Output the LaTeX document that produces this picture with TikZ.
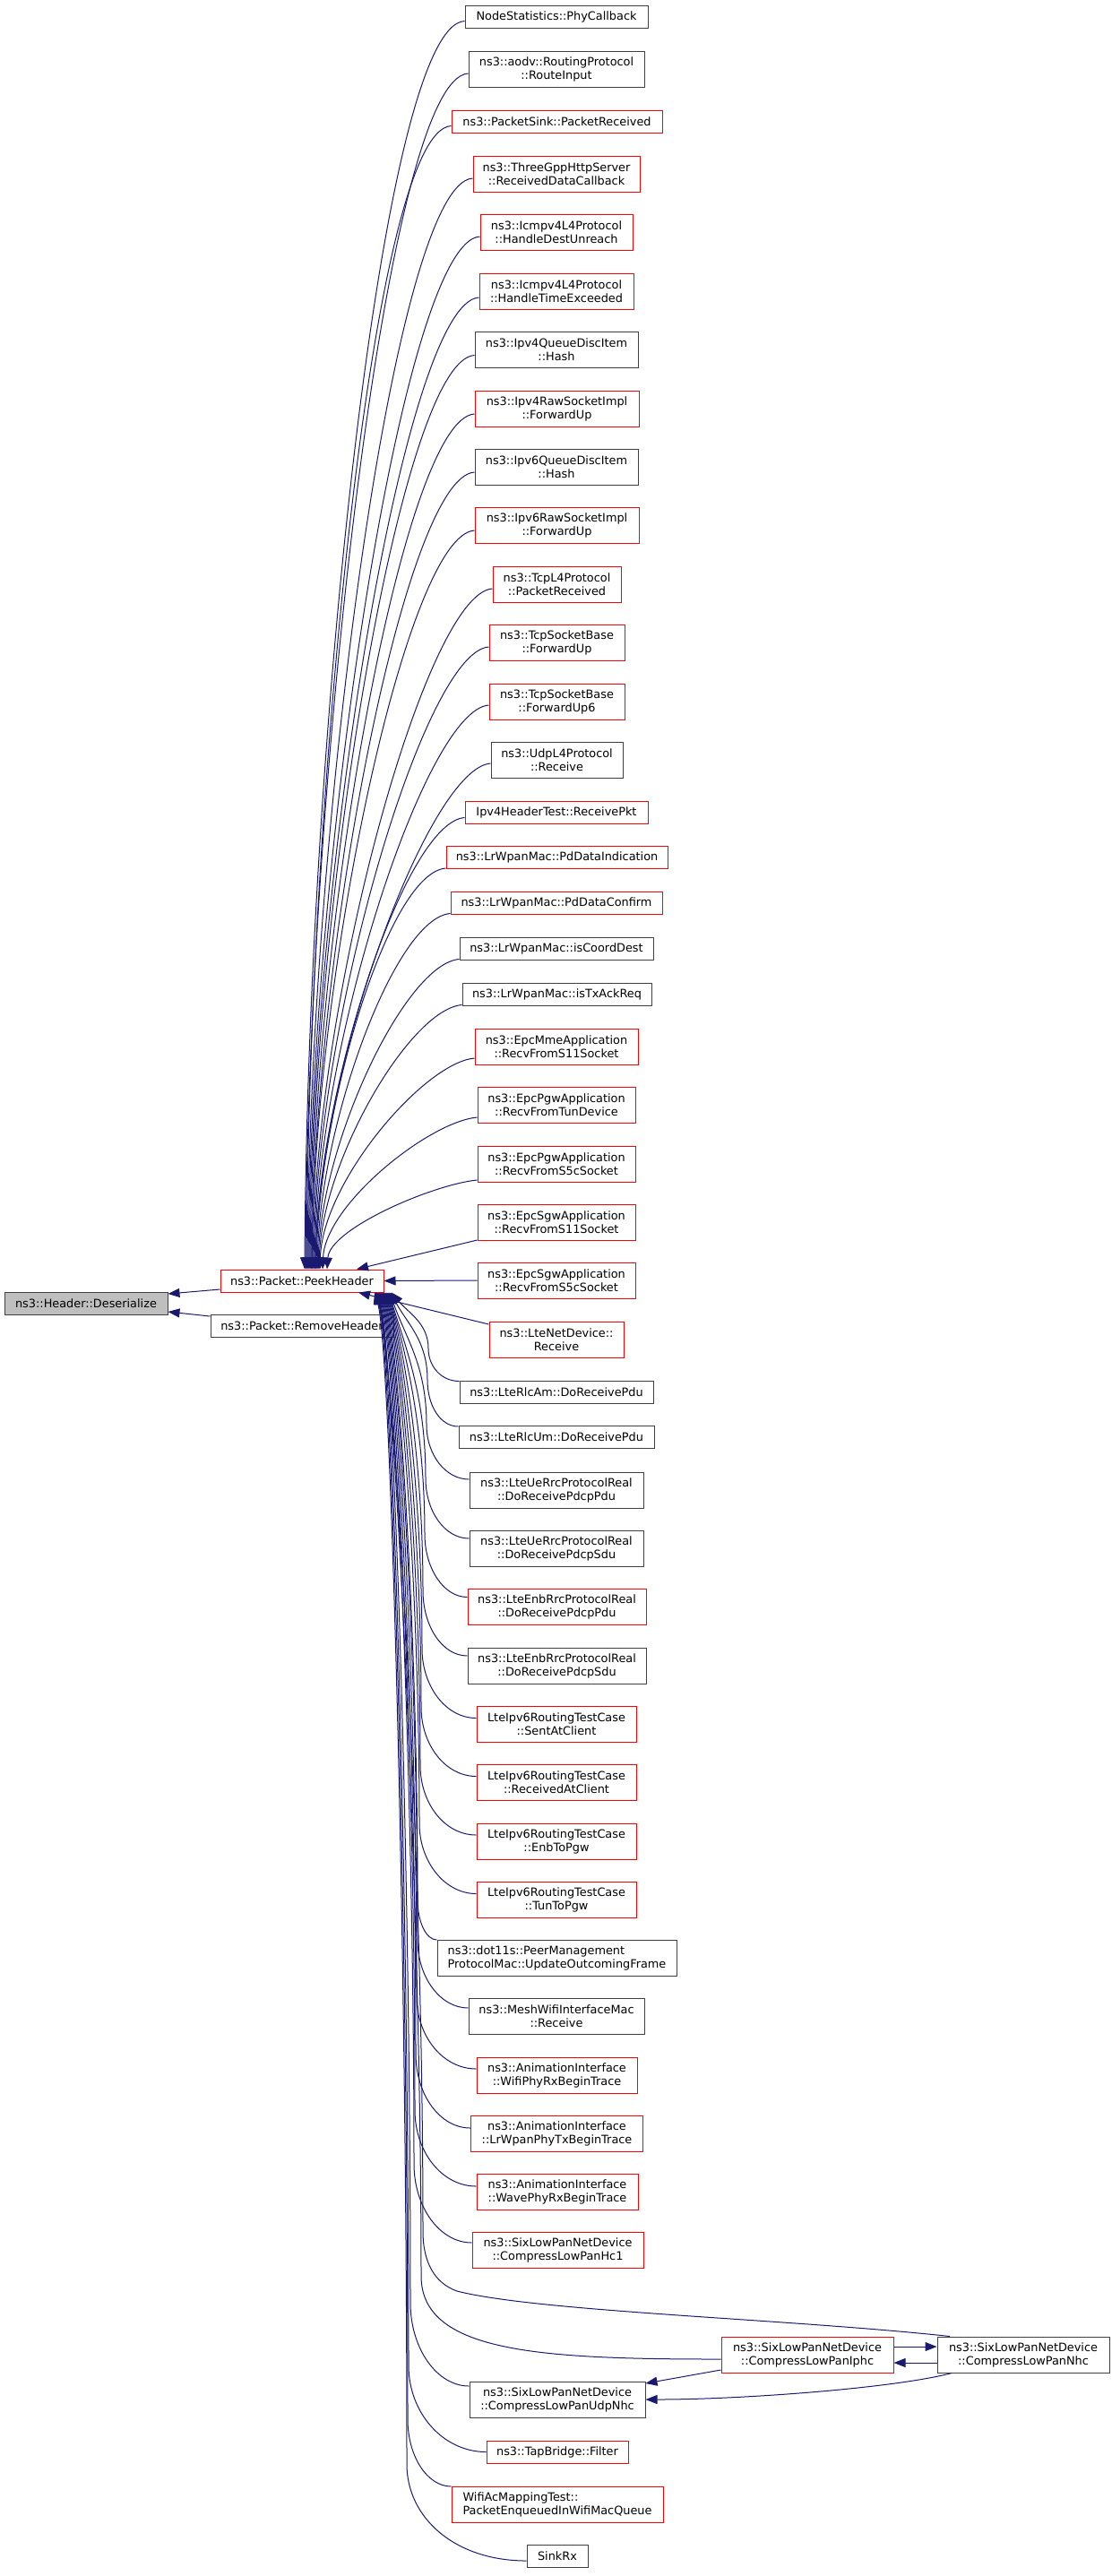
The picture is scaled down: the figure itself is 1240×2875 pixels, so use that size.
\documentclass[tikz,border=0pt]{standalone}
\usepackage{fontspec}
\setmainfont{DejaVu Sans}
\usetikzlibrary{arrows.meta}

\definecolor{edgeblue}{HTML}{191970}
\definecolor{fnred}{HTML}{FF0000}
\definecolor{fngrey}{HTML}{404040}
\definecolor{fnfill}{HTML}{BFBFBF}

\newcommand{\fnfont}{\fontsize{12.85pt}{15pt}\selectfont}

\tikzset{
  fn/.style={rectangle, draw, line width=1pt, inner sep=2pt, font=\fnfont, align=center, text=black},
  redbox/.style={draw=fnred},
  greybox/.style={draw=fngrey},
  one/.style={minimum height=25pt},
  two/.style={minimum height=40pt},
  call/.style={draw=edgeblue, line width=1pt, -{Triangle[length=13pt,width=10pt]}},
}

\begin{document}
\begin{tikzpicture}[x=1pt,y=-1pt]
  \useasboundingbox (0,0) rectangle (1240,2875);

  \begin{scope}[every node/.style={fn}]
    \node[greybox, fill=fnfill, one, minimum width=182pt] (des) at (96,1454.5) {ns3::Header::Deserialize};
    \node[redbox, one, minimum width=182pt] (peek) at (337,1429.5) {ns3::Packet::PeekHeader};
    \node[greybox, one, minimum width=204pt] (remove) at (337,1480) {ns3::Packet::RemoveHeader};

    \node[greybox, one, minimum width=204pt] (phycb) at (621,18.5) {NodeStatistics::PhyCallback};
    \node[greybox, two, minimum width=196pt] (aodv) at (621,77) {ns3::aodv::RoutingProtocol\\::RouteInput};
    \node[redbox, one, minimum width=235pt] (sink) at (621.5,135.5) {ns3::PacketSink::PacketReceived};
    \node[redbox, two, minimum width=186pt] (http) at (621,194) {ns3::ThreeGppHttpServer\\::ReceivedDataCallback};
    \node[redbox, two, minimum width=170pt] (icmpdu) at (621,259) {ns3::Icmpv4L4Protocol\\::HandleDestUnreach};
    \node[redbox, two, minimum width=172pt] (icmpte) at (621,325) {ns3::Icmpv4L4Protocol\\::HandleTimeExceeded};
    \node[greybox, two, minimum width=182pt] (qd4) at (621,390.5) {ns3::Ipv4QueueDiscItem\\::Hash};
    \node[redbox, two, minimum width=183pt] (raw4) at (621.5,456) {ns3::Ipv4RawSocketImpl\\::ForwardUp};
    \node[greybox, two, minimum width=182pt] (qd6) at (621,521) {ns3::Ipv6QueueDiscItem\\::Hash};
    \node[redbox, two, minimum width=183pt] (raw6) at (621.5,586) {ns3::Ipv6RawSocketImpl\\::ForwardUp};
    \node[redbox, two, minimum width=143pt] (tcpl4) at (621.5,652) {ns3::TcpL4Protocol\\::PacketReceived};
    \node[redbox, two, minimum width=151pt] (tcpfw) at (621.5,717) {ns3::TcpSocketBase\\::ForwardUp};
    \node[redbox, two, minimum width=151pt] (tcpfw6) at (621.5,783) {ns3::TcpSocketBase\\::ForwardUp6};
    \node[greybox, two, minimum width=147pt] (udpl4) at (621.5,848) {ns3::UdpL4Protocol\\::Receive};
    \node[redbox, one, minimum width=204pt] (ip4test) at (621,906.5) {Ipv4HeaderTest::ReceivePkt};
    \node[redbox, one, minimum width=247pt] (pdind) at (621.5,957) {ns3::LrWpanMac::PdDataIndication};
    \node[redbox, one, minimum width=236pt] (pdconf) at (621,1007.5) {ns3::LrWpanMac::PdDataConfirm};
    \node[greybox, one, minimum width=216pt] (coord) at (621,1058.5) {ns3::LrWpanMac::isCoordDest};
    \node[greybox, one, minimum width=211pt] (txack) at (621.5,1109.5) {ns3::LrWpanMac::isTxAckReq};
    \node[redbox, two, minimum width=182pt] (mme) at (621,1168) {ns3::EpcMmeApplication\\::RecvFromS11Socket};
    \node[redbox, two, minimum width=176pt] (pgwtun) at (621,1233) {ns3::EpcPgwApplication\\::RecvFromTunDevice};
    \node[redbox, two, minimum width=176pt] (pgws5c) at (621,1299) {ns3::EpcPgwApplication\\::RecvFromS5cSocket};
    \node[redbox, two, minimum width=176pt] (sgws11) at (621,1364) {ns3::EpcSgwApplication\\::RecvFromS11Socket};
    \node[redbox, two, minimum width=176pt] (sgws5c) at (621,1429) {ns3::EpcSgwApplication\\::RecvFromS5cSocket};
    \node[redbox, two, minimum width=150pt] (ltenet) at (621,1495) {ns3::LteNetDevice::\\Receive};
    \node[greybox, one, minimum width=216pt] (rlcam) at (621,1553.5) {ns3::LteRlcAm::DoReceivePdu};
    \node[greybox, one, minimum width=218pt] (rlcum) at (621,1604) {ns3::LteRlcUm::DoReceivePdu};
    \node[greybox, two, minimum width=194pt] (uepdu) at (621,1663) {ns3::LteUeRrcProtocolReal\\::DoReceivePdcpPdu};
    \node[greybox, two, minimum width=194pt] (uesdu) at (621,1728) {ns3::LteUeRrcProtocolReal\\::DoReceivePdcpSdu};
    \node[redbox, two, minimum width=199pt] (enbpdu) at (621.5,1793.5) {ns3::LteEnbRrcProtocolReal\\::DoReceivePdcpPdu};
    \node[greybox, two, minimum width=199pt] (enbsdu) at (621.5,1859) {ns3::LteEnbRrcProtocolReal\\::DoReceivePdcpSdu};
    \node[redbox, two, minimum width=178pt] (sent) at (621,1924.5) {LteIpv6RoutingTestCase\\::SentAtClient};
    \node[redbox, two, minimum width=178pt] (recv) at (621,1989.5) {LteIpv6RoutingTestCase\\::ReceivedAtClient};
    \node[redbox, two, minimum width=178pt] (enbpgw) at (621,2055) {LteIpv6RoutingTestCase\\::EnbToPgw};
    \node[redbox, two, minimum width=178pt] (tunpgw) at (621,2120.5) {LteIpv6RoutingTestCase\\::TunToPgw};
    \node[greybox, two, minimum width=267pt, align=left] (dot11s) at (621.5,2185) {ns3::dot11s::PeerManagement\\ProtocolMac::UpdateOutcomingFrame};
    \node[greybox, two, minimum width=196pt] (mesh) at (621,2250) {ns3::MeshWifiInterfaceMac\\::Receive};
    \node[redbox, two, minimum width=179pt] (wifirx) at (621.5,2316) {ns3::AnimationInterface\\::WifiPhyRxBeginTrace};
    \node[redbox, two, minimum width=192pt] (lrtx) at (621.5,2381) {ns3::AnimationInterface\\::LrWpanPhyTxBeginTrace};
    \node[redbox, two, minimum width=180pt] (waverx) at (622,2446) {ns3::AnimationInterface\\::WavePhyRxBeginTrace};
    \node[redbox, two, minimum width=191pt] (hc1) at (622.5,2511) {ns3::SixLowPanNetDevice\\::CompressLowPanHc1};
    \node[redbox, two, minimum width=192pt] (iphc) at (901,2628) {ns3::SixLowPanNetDevice\\::CompressLowPanIphc};
    \node[greybox, two, minimum width=192pt] (nhc) at (1142,2628) {ns3::SixLowPanNetDevice\\::CompressLowPanNhc};
    \node[greybox, two, minimum width=196pt] (udpnhc) at (622,2678) {ns3::SixLowPanNetDevice\\::CompressLowPanUdpNhc};
    \node[redbox, one, minimum width=158pt] (tap) at (622,2736.5) {ns3::TapBridge::Filter};
    \node[redbox, two, minimum width=236pt, align=left] (wifiac) at (622,2795) {WifiAcMappingTest::\\PacketEnqueuedInWifiMacQueue};
    \node[greybox, one, minimum width=68pt] (sinkrx) at (622,2853) {SinkRx};
  \end{scope}

  % callee edges
  \draw[call] ([yshift=-9.5]peek.west) -- ([yshift=10.5]des.east);
  \draw[call] ([yshift=11]remove.west) -- ([yshift=-9.5]des.east);

  % callers above PeekHeader
  \foreach \nd/\ys/\ha/\vc/\tp in {phycb/-5/95/557/3, aodv/-5/92/534/4, sink/-5/90/510/5,
      http/-5/88/487/6, icmpdu/-5/86/461/7, icmpte/-7/84/435/8, qd4/-6/82/409/9,
      raw4/-6/80/382/10, qd6/-6/78/356/11, raw6/-6/76/330/11, tcpl4/-5/74/304/12,
      tcpfw/-5/72/278/13, tcpfw6/-4/70/252/14, udpl4/-4/68/226/15, ip4test/-6/66/202/15,
      pdind/-12/64/182/16, pdconf/-12/62/162/17, coord/-12/60/142/18, txack/-12/58/121/19,
      mme/-13/56/98/20, pgwtun/-14/54/72/23, pgws5c/-18/50/45/28}
    \draw[call] ([yshift=\ys]\nd.west) .. controls +(-\ha,5) and +(3,-\vc) .. ([xshift=\tp]peek.north);

  \draw[call] ([yshift=-20]sgws11.west) -- ([xshift=61]peek.north);
  \draw[call] (sgws5c.west) -- (peek.east);
  \draw[call] ([yshift=17]ltenet.west) -- ([xshift=63]peek.south);

  % callers below PeekHeader
  \foreach \nd/\ys/\ha/\vb/\kx/\ky/\tp in {rlcam/12/20/20/478/1505/100, rlcum/12/20/29/477/1540/99,
      uepdu/12/26/34/476/1590/98, uesdu/11/27/37/475/1650/97, enbpdu/11/26/39/474/1712/96,
      enbsdu/11/28/40/472/1775/95, sent/7/34/42/471/1840/94, recv/7/34/43/470/1905/93,
      enbpgw/7/35/43/469/1970/92, tunpgw/7/35/43/468/2035/91, dot11s/20/12/25/466/2120/90,
      mesh/9/31/42/466/2165/89, wifirx/7/37/45/465/2228/88, lrtx/6/34/46/464/2292/87,
      waverx/6/38/47/463/2355/86, hc1/8/36/48/462/2415/85, udpnhc/15/36/51/458/2570/84,
      tap/0/48/53/456/2640/83, wifiac/20/27/41/455/2700/82, sinkrx/-5/80/60/454/2750/81}
  {
    \pgfmathsetmacro\vl{0.45*(\ky-1442)}
    \pgfmathsetmacro\vm{min(60,0.35*(\ky-1442))}
    \draw[call] ([yshift=\ys]\nd.west) .. controls +(-\ha,0) and +(0,\vb) .. (\kx,\ky)
      .. controls +(0,-\vl) and +(18,\vm) .. ([xshift=\tp]peek.south);
  }

  \draw[call] ([yshift=-5]iphc.west) .. controls (600,2633) and (470,2625) .. (470,2540)
    .. controls +(0,-440) and +(18,60) .. ([xshift=83]peek.south);
  \draw[call] ([xshift=-82]nhc.north) .. controls (880,2588) and (600,2580) .. (510,2557)
    .. controls (485,2548) and (472,2525) .. (472,2490)
    .. controls +(0,-470) and +(18,60) .. ([xshift=82]peek.south);

  % SixLowPan calls
  \draw[call] ([yshift=9]iphc.east) -- ([yshift=9]nhc.west);
  \draw[call] ([yshift=-9]nhc.west) -- ([yshift=-9]iphc.east);
  \draw[call] ([yshift=-17]iphc.west) -- ([yshift=18]udpnhc.east);
  \draw[call] ([xshift=-80]nhc.south) .. controls (1000,2665) and (830,2678) .. (udpnhc.east);

\end{tikzpicture}
\end{document}
